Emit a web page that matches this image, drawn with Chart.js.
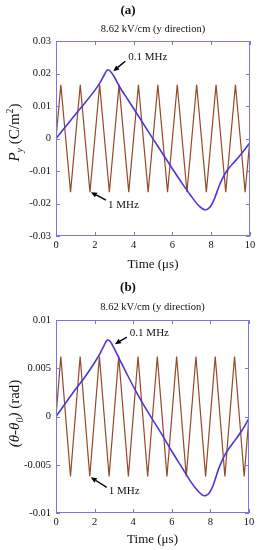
<!DOCTYPE html>
<html>
<head>
<meta charset="utf-8">
<script src="https://cdn.jsdelivr.net/npm/chart.js@4.4.1/dist/chart.umd.min.js"></script>
<style>
  body { margin: 0; background: #fff; }
  canvas { display: block; }
</style>
</head>
<body>
<canvas id="chartA" width="263" height="275"></canvas>
<canvas id="chartB" width="263" height="275"></canvas>
<script>
// time axis (μs) for the 1 MHz trace
const timeFast = [0, 0.25, 0.5, 0.75, 1, 1.25, 1.5, 1.75, 2, 2.25, 2.5, 2.75, 3, 3.25, 3.5, 3.75,
  4, 4.25, 4.5, 4.75, 5, 5.25, 5.5, 5.75, 6, 6.25, 6.5, 6.75, 7, 7.25, 7.5, 7.75,
  8, 8.25, 8.5, 8.75, 9, 9.25, 9.5, 9.75, 10];

// (a) Py, 1 MHz
const fastPolA = [0, 0.0165, 0, -0.0165, 0, 0.0165, 0, -0.0165, 0, 0.0165, 0, -0.0165, 0, 0.0165, 0, -0.0165,
  0, 0.0165, 0, -0.0165, 0, 0.0165, 0, -0.0165, 0, 0.0165, 0, -0.0165, 0, 0.0165, 0, -0.0165,
  0, 0.0165, 0, -0.0165, 0, 0.0165, 0, -0.0165, 0];

// (b) theta - theta0, 1 MHz
const fastAngB = [0, 0.0062, 0, -0.0062, 0, 0.0062, 0, -0.0062, 0, 0.0062, 0, -0.0062, 0, 0.0062, 0, -0.0062,
  0, 0.0062, 0, -0.0062, 0, 0.0062, 0, -0.0062, 0, 0.0062, 0, -0.0062, 0, 0.0062, 0, -0.0062,
  0, 0.0062, 0, -0.0062, 0, 0.0062, 0, -0.0062, 0];

// time axis (μs) for the 0.1 MHz trace
const timeSlow = [0, 0.5, 1.0, 1.5, 2.0, 2.3, 2.5, 2.65, 2.8, 3.0, 3.3, 3.7, 4.2, 4.6, 5.0, 5.5, 6.0, 6.5,
  7.0, 7.3, 7.55, 7.75, 7.95, 8.15, 8.45, 8.8, 9.3, 9.65, 10];

// (a) Py, 0.1 MHz
const slowPolA = [0, 0.0037, 0.0074, 0.0110, 0.0148, 0.0175, 0.0197, 0.0211, 0.0207, 0.0190, 0.0157, 0.0120, 0.0074, 0.0036,
  -0.0001, -0.0047, -0.0093, -0.0138, -0.0180, -0.0203, -0.0216, -0.0219, -0.0210, -0.0188, -0.0140, -0.0100, -0.0065, -0.0040, -0.0012];

// (b) theta - theta0, 0.1 MHz
const slowAngB = [0, 0.0014, 0.0028, 0.0041, 0.0056, 0.0066, 0.0074, 0.0079, 0.0078, 0.0071, 0.0059, 0.0043, 0.0024, 0.0010,
  -0.0003, -0.0019, -0.0036, -0.0052, -0.0068, -0.0076, -0.0081, -0.0082, -0.0079, -0.0071, -0.0053, -0.0038, -0.0024, -0.0014, -0.0002];

const xTicks = [0, 2, 4, 6, 8, 10];
const yTicksA = [-0.03, -0.02, -0.01, 0, 0.01, 0.02, 0.03];
const yLabelsA = ['-0.03', '-0.02', '-0.01', '0', '0.01', '0.02', '0.03'];
const yTicksB = [-0.01, -0.005, 0, 0.005, 0.01];
const yLabelsB = ['-0.01', '-0.005', '0', '0.005', '0.01'];

const FONT = "'Liberation Serif', 'DejaVu Serif', serif";
const FRAME = '#7b78dc';

function pts(xs, ys) {
  return xs.map((x, i) => ({ x: x, y: ys[i] }));
}

// draws frame, inward ticks, titles, axis labels and arrow notes
const decorPlugin = {
  id: 'decor',
  afterDraw(chart, args, o) {
    const ctx = chart.ctx;
    const a = chart.chartArea;
    const xs = chart.scales.x, ys = chart.scales.y;
    ctx.save();

    ctx.strokeStyle = FRAME;
    ctx.lineWidth = 1;
    ctx.strokeRect(a.left + 0.5, a.top + 0.5, a.right - a.left - 1, a.bottom - a.top - 1);
    ctx.beginPath();
    xTicks.forEach(v => {
      const p = Math.round(xs.getPixelForValue(v)) + 0.5;
      ctx.moveTo(p, a.top); ctx.lineTo(p, a.top + 4);
      ctx.moveTo(p, a.bottom); ctx.lineTo(p, a.bottom - 4);
    });
    o.yTicks.forEach(v => {
      const p = Math.round(ys.getPixelForValue(v)) + 0.5;
      ctx.moveTo(a.left, p); ctx.lineTo(a.left + 4, p);
      ctx.moveTo(a.right, p); ctx.lineTo(a.right - 4, p);
    });
    ctx.stroke();

    ctx.fillStyle = '#111';
    ctx.textBaseline = 'middle';
    ctx.textAlign = 'center';
    ctx.font = 'bold 13px ' + FONT;
    ctx.fillText(o.title, 128, o.titleY);
    ctx.font = '10.5px ' + FONT;
    ctx.fillText(o.subtitle, (a.left + a.right) / 2, o.subtitleY);
    ctx.font = '13px ' + FONT;
    ctx.fillText('Time (\u03bcs)', (a.left + a.right) / 2, o.xTitleY);

    // rotated y label made of styled pieces
    ctx.save();
    ctx.translate(o.yTitleX, (a.top + a.bottom) / 2 + o.yTitleShift);
    ctx.rotate(-Math.PI / 2);
    ctx.textAlign = 'left';
    ctx.textBaseline = 'alphabetic';
    let w = 0;
    o.yTitle.forEach(s => { ctx.font = s.font + FONT; w += ctx.measureText(s.t).width; });
    let cx = -w / 2;
    o.yTitle.forEach(s => {
      ctx.font = s.font + FONT;
      ctx.fillText(s.t, cx, 5 + (s.dy || 0));
      cx += ctx.measureText(s.t).width;
    });
    ctx.restore();

    // arrow notes
    o.notes.forEach(n => {
      const tx = xs.getPixelForValue(n.x), ty = ys.getPixelForValue(n.y);
      const ex = tx + n.dx, ey = ty + n.dy;
      const ang = Math.atan2(ty - ey, tx - ex);
      const hl = 6, hw = 2.6;
      const bx = tx - hl * Math.cos(ang), by = ty - hl * Math.sin(ang);
      ctx.strokeStyle = '#000';
      ctx.lineWidth = 1.4;
      ctx.beginPath();
      ctx.moveTo(ex, ey); ctx.lineTo(bx, by);
      ctx.stroke();
      ctx.fillStyle = '#000';
      ctx.beginPath();
      ctx.moveTo(tx, ty);
      ctx.lineTo(bx + hw * Math.sin(ang), by - hw * Math.cos(ang));
      ctx.lineTo(bx - hw * Math.sin(ang), by + hw * Math.cos(ang));
      ctx.closePath();
      ctx.fill();
      ctx.fillStyle = '#111';
      ctx.font = '11px ' + FONT;
      ctx.textAlign = 'left';
      ctx.textBaseline = 'middle';
      ctx.fillText(n.text, ex + n.tx, ey + n.ty);
    });
    ctx.restore();
  }
};

function makeChart(id, slow, fast, yMin, yMax, yTicks, yLabels, pad, xHeight, decor) {
  return new Chart(document.getElementById(id).getContext('2d'), {
    type: 'line',
    data: {
      datasets: [
        {
          label: '0.1 MHz',
          data: pts(timeSlow, slow),
          borderColor: '#4a38d4',
          borderWidth: 1.6,
          pointRadius: 0,
          tension: 0.3,
          fill: false
        },
        {
          label: '1 MHz',
          data: pts(timeFast, fast),
          borderColor: '#944a2a',
          borderWidth: 1.2,
          pointRadius: 0,
          tension: 0,
          fill: false
        }
      ]
    },
    options: {
      responsive: false,
      animation: false,
      devicePixelRatio: 1,
      layout: { padding: pad },
      scales: {
        x: {
          type: 'linear',
          min: 0,
          max: 10,
          afterBuildTicks: s => { s.ticks = xTicks.map(v => ({ value: v })); },
          afterFit: s => { s.height = xHeight; },
          grid: { display: false, drawTicks: false },
          border: { display: false },
          ticks: { color: '#111', padding: 3, maxRotation: 0, font: { family: FONT, size: 10.5 } }
        },
        y: {
          type: 'linear',
          min: yMin,
          max: yMax,
          afterBuildTicks: s => { s.ticks = yTicks.map(v => ({ value: v })); },
          afterFit: s => { s.width = 56; },
          grid: { display: false, drawTicks: false },
          border: { display: false },
          ticks: {
            color: '#111',
            padding: 5,
            font: { family: FONT, size: 10.5 },
            callback: (v) => {
              const i = yTicks.findIndex(t => Math.abs(t - v) < 1e-9);
              return i >= 0 ? yLabels[i] : '';
            }
          }
        }
      },
      plugins: {
        legend: { display: false },
        tooltip: { enabled: false },
        decor: decor
      }
    },
    plugins: [decorPlugin]
  });
}

makeChart('chartA', slowPolA, fastPolA, -0.03, 0.03, yTicksA, yLabelsA,
  { top: 41, right: 13, bottom: 0, left: 0 }, 39, {
    title: '(a)', titleY: 11, subtitle: '8.62 kV/cm (y direction)', subtitleY: 29, xTitleY: 265,
    yTicks: yTicksA,
    yTitleX: 14, yTitleShift: -6,
    yTitle: [
      { t: 'P', font: 'italic 15px ' },
      { t: 'y', font: 'italic 10px ', dy: 4 },
      { t: ' (C/m', font: '15px ' },
      { t: '2', font: '10px ', dy: -6 },
      { t: ')', font: '15px ' }
    ],
    notes: [
      { text: '0.1 MHz', x: 2.95, y: 0.0207, dx: 12, dy: -10, tx: 3, ty: -4 },
      { text: '1 MHz', x: 1.8, y: -0.0165, dx: 15, dy: 8, tx: 2, ty: 5 }
    ]
  });

makeChart('chartB', slowAngB, fastAngB, -0.01, 0.01, yTicksB, yLabelsB,
  { top: 45, right: 14, bottom: 0, left: 0 }, 37, {
    title: '(b)', titleY: 13, subtitle: '8.62 kV/cm (y direction)', subtitleY: 32, xTitleY: 265,
    yTicks: yTicksB,
    yTitleX: 14, yTitleShift: -3,
    yTitle: [
      { t: '(', font: 'italic 15px ' },
      { t: '\u03b8', font: 'italic 15px ' },
      { t: '-', font: 'italic 15px ' },
      { t: '\u03b8', font: 'italic 15px ' },
      { t: '0', font: 'italic 10px ', dy: 4 },
      { t: ')', font: 'italic 15px ' },
      { t: ' (rad)', font: '15px ' }
    ],
    notes: [
      { text: '0.1 MHz', x: 3.05, y: 0.0075, dx: 12, dy: -7, tx: 3, ty: -4 },
      { text: '1 MHz', x: 1.8, y: -0.0063, dx: 16, dy: 10, tx: 2, ty: 4 }
    ]
  });
</script>
</body>
</html>
